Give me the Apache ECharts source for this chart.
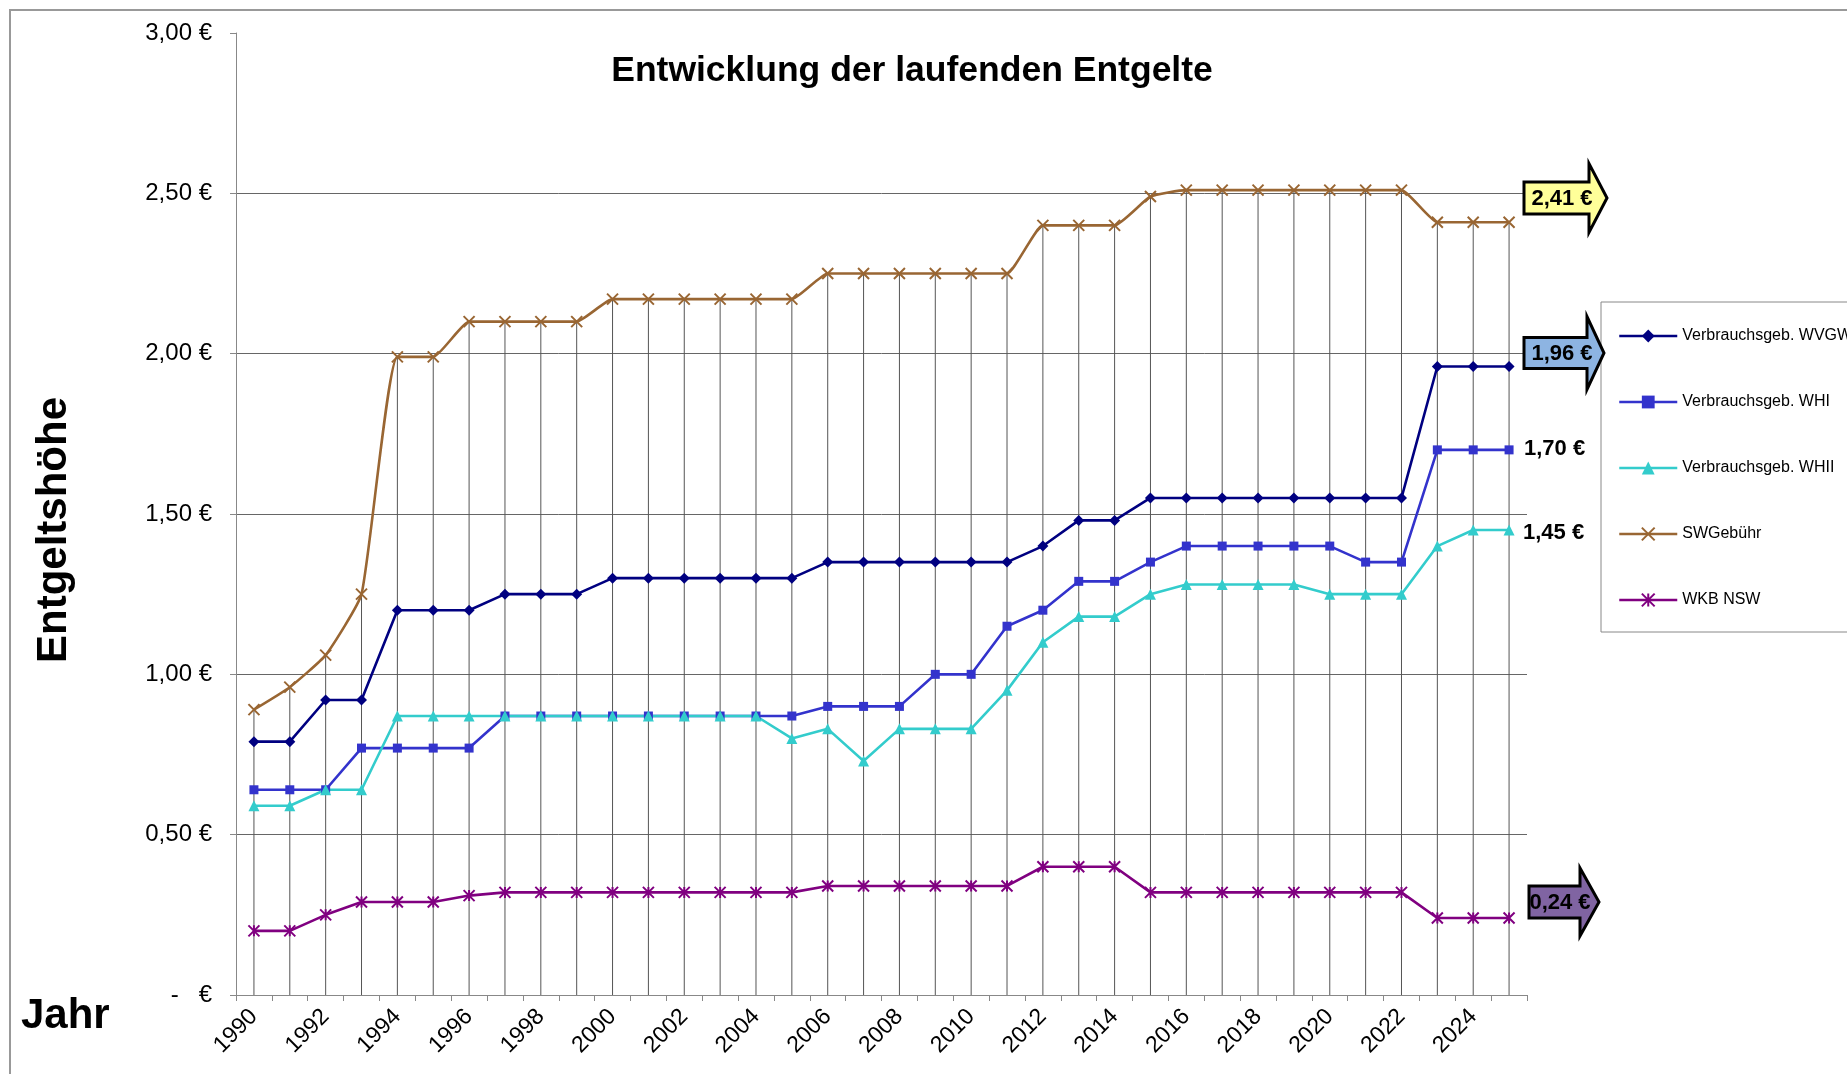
<!DOCTYPE html>
<html>
<head>
<meta charset="utf-8">
<title>Entwicklung der laufenden Entgelte</title>
<script src="https://cdn.jsdelivr.net/npm/echarts@6/dist/echarts.min.js"></script>
<style>
  html, body { margin: 0; padding: 0; background: #fff; }
  #chart { width: 1847px; height: 1074px; }
</style>
</head>
<body>
<div id="chart"></div>
<script>
  // Jahre 1990 - 2025
  const years = ['1990','1991','1992','1993','1994','1995','1996','1997','1998','1999',
    '2000','2001','2002','2003','2004','2005','2006','2007','2008','2009',
    '2010','2011','2012','2013','2014','2015','2016','2017','2018','2019',
    '2020','2021','2022','2023','2024','2025']

  const names = ['Verbrauchsgeb. WVGW', 'Verbrauchsgeb. WHI', 'Verbrauchsgeb. WHII', 'SWGebühr', 'WKB NSW']

  const wvgw = [0.79,0.79,0.92,0.92,1.20,1.20,1.20,1.25,1.25,1.25,
    1.30,1.30,1.30,1.30,1.30,1.30,1.35,1.35,1.35,1.35,
    1.35,1.35,1.40,1.48,1.48,1.55,1.55,1.55,1.55,1.55,
    1.55,1.55,1.55,1.96,1.96,1.96]
  const whi = [0.64,0.64,0.64,0.77,0.77,0.77,0.77,0.87,0.87,0.87,
    0.87,0.87,0.87,0.87,0.87,0.87,0.90,0.90,0.90,1.00,
    1.00,1.15,1.20,1.29,1.29,1.35,1.40,1.40,1.40,1.40,
    1.40,1.35,1.35,1.70,1.70,1.70]
  const whii = [0.59,0.59,0.64,0.64,0.87,0.87,0.87,0.87,0.87,0.87,
    0.87,0.87,0.87,0.87,0.87,0.80,0.83,0.73,0.83,0.83,
    0.83,0.95,1.10,1.18,1.18,1.25,1.28,1.28,1.28,1.28,
    1.25,1.25,1.25,1.40,1.45,1.45]
  const sw = [0.89,0.96,1.06,1.25,1.99,1.99,2.10,2.10,2.10,2.10,
    2.17,2.17,2.17,2.17,2.17,2.17,2.25,2.25,2.25,2.25,
    2.25,2.25,2.40,2.40,2.40,2.49,2.51,2.51,2.51,2.51,
    2.51,2.51,2.51,2.41,2.41,2.41]
  const wkb = [0.20,0.20,0.25,0.29,0.29,0.29,0.31,0.32,0.32,0.32,
    0.32,0.32,0.32,0.32,0.32,0.32,0.34,0.34,0.34,0.34,
    0.34,0.34,0.40,0.40,0.40,0.32,0.32,0.32,0.32,0.32,
    0.32,0.32,0.32,0.24,0.24,0.24]

  const yTicks = [0, 0.5, 1, 1.5, 2, 2.5, 3]

  const colors = ['#000080', '#3333cc', '#33cccc', '#996633', '#800080']
  const xMark = 'path://M0,0L10,10M10,0L0,10'
  const starMark = 'path://M0,0L10,10M10,0L0,10M5,0L5,10'

  // Excel-Lotlinien: vom höchsten Wert je Jahr bis zur Achse
  const dropLines = years.map((y, i) => Math.max(wvgw[i], whi[i], whii[i], sw[i], wkb[i]))

  const fmt = v => v.toFixed(2).replace('.', ',') + ' €'
  const last = arr => arr[arr.length - 1]

  function arrow (x0, x1, tip, yc, bh, hh, fill, label, tx) {
    return [
      {
        type: 'polygon',
        z: 10,
        shape: {
          points: [[x0, yc - bh / 2], [x1, yc - bh / 2], [x1, yc - hh / 2], [tip, yc],
            [x1, yc + hh / 2], [x1, yc + bh / 2], [x0, yc + bh / 2]]
        },
        style: { fill: fill, stroke: '#000', lineWidth: 3, lineJoin: 'miter' }
      },
      {
        type: 'text',
        z: 11,
        x: tx,
        y: yc + 1,
        style: {
          text: label,
          align: 'center',
          verticalAlign: 'middle',
          font: 'bold 22px "Liberation Sans", Arial, sans-serif',
          fill: '#000'
        }
      }
    ]
  }

  let chart = echarts.init(document.getElementById('chart'))
  let option = {
    animation: false,
    backgroundColor: '#fff',
    textStyle: { fontFamily: '"Liberation Sans", Arial, sans-serif' },
    title: {
      text: 'Entwicklung der laufenden Entgelte',
      left: 907,
      top: 48,
      textAlign: 'center',
      textStyle: { fontSize: 35.5, fontWeight: 'bold', color: '#000' }
    },
    legend: {
      orient: 'vertical',
      left: 1601,
      top: 302,
      padding: [26, 40, 24, 17],
      itemWidth: 58,
      itemHeight: 16,
      itemGap: 50,
      borderColor: '#888',
      borderWidth: 1,
      lineStyle: { width: 2.5 },
      textStyle: { fontSize: 16, color: '#000', lineHeight: 16 },
      data: [
        { name: names[0] },
        { name: names[1] },
        { name: names[2] },
        { name: names[3], itemStyle: { borderColor: colors[3], borderWidth: 2 } },
        { name: names[4], itemStyle: { borderColor: colors[4], borderWidth: 2 } }
      ]
    },
    grid: {
      left: 236,
      right: 320,
      top: 33,
      bottom: 79,
      containLabel: false,
      outerBoundsMode: 'none'
    },
    xAxis: {
      type: 'category',
      data: years,
      boundaryGap: true,
      axisLine: { lineStyle: { color: '#888', width: 1 } },
      axisTick: { show: true, interval: 0, length: 6, lineStyle: { color: '#888' } },
      axisLabel: { interval: 1, rotate: 45, fontSize: 23, color: '#000', margin: 18 },
      splitLine: { show: false }
    },
    yAxis: {
      type: 'value',
      min: yTicks[0],
      max: yTicks[yTicks.length - 1],
      interval: 0.5,
      axisLine: { show: true, lineStyle: { color: '#888', width: 1 } },
      axisTick: { show: true, length: 6, lineStyle: { color: '#888' } },
      axisLabel: {
        fontSize: 24,
        color: '#000',
        margin: 24,
        formatter: v => v === 0 ? '-   €' : fmt(v)
      },
      splitLine: {
        show: true,
        lineStyle: { color: ['#666', '#666', '#666', '#666', '#666', '#666', 'rgba(0,0,0,0)'], width: 1 }
      }
    },
    series: [
      {
        name: 'Lotlinien',
        type: 'bar',
        data: dropLines,
        barWidth: 1,
        silent: true,
        legendHoverLink: false,
        itemStyle: { color: '#555' }
      },
      {
        name: names[0],
        type: 'line',
        data: wvgw,
        symbol: 'diamond',
        symbolSize: 11,
        showAllSymbol: true,
        lineStyle: { width: 2.6, color: colors[0] },
        itemStyle: { color: colors[0] }
      },
      {
        name: names[1],
        type: 'line',
        data: whi,
        symbol: 'rect',
        symbolSize: 9,
        showAllSymbol: true,
        lineStyle: { width: 2.6, color: colors[1] },
        itemStyle: { color: colors[1] }
      },
      {
        name: names[2],
        type: 'line',
        data: whii,
        symbol: 'triangle',
        symbolSize: 11,
        showAllSymbol: true,
        lineStyle: { width: 2.6, color: colors[2] },
        itemStyle: { color: colors[2] }
      },
      {
        name: names[3],
        type: 'line',
        data: sw,
        smooth: 0.15,
        symbol: xMark,
        symbolSize: 11,
        showAllSymbol: true,
        lineStyle: { width: 2.6, color: colors[3] },
        itemStyle: { color: colors[3], borderColor: colors[3], borderWidth: 2 }
      },
      {
        name: names[4],
        type: 'line',
        data: wkb,
        symbol: starMark,
        symbolSize: 11,
        showAllSymbol: true,
        lineStyle: { width: 2.6, color: colors[4] },
        itemStyle: { color: colors[4], borderColor: colors[4], borderWidth: 2 }
      }
    ],
    graphic: [
      {
        type: 'rect',
        silent: true,
        shape: { x: 10, y: 10, width: 2000, height: 2000 },
        style: { fill: 'none', stroke: '#999', lineWidth: 2 }
      },
      {
        type: 'text',
        x: 54,
        y: 530,
        rotation: Math.PI / 2,
        style: {
          text: 'Entgeltshöhe',
          align: 'center',
          verticalAlign: 'middle',
          font: 'bold 42px "Liberation Sans", Arial, sans-serif',
          fill: '#000'
        }
      },
      {
        type: 'text',
        x: 21,
        y: 1016,
        style: {
          text: 'Jahr',
          align: 'left',
          verticalAlign: 'middle',
          font: 'bold 42px "Liberation Sans", Arial, sans-serif',
          fill: '#000'
        }
      },
      ...arrow(1524, 1589, 1607, 198, 32, 69, '#ffff99', fmt(last(sw)), 1562),
      ...arrow(1524, 1587, 1604, 353, 31, 73, '#8db4e2', fmt(last(wvgw)), 1562),
      ...arrow(1529, 1580, 1599, 902, 32, 68, '#8064a2', fmt(last(wkb)), 1560),
      {
        type: 'text',
        x: 1524,
        y: 449,
        style: {
          text: fmt(last(whi)),
          align: 'left',
          verticalAlign: 'middle',
          font: 'bold 22px "Liberation Sans", Arial, sans-serif',
          fill: '#000'
        }
      },
      {
        type: 'text',
        x: 1523,
        y: 533,
        style: {
          text: fmt(last(whii)),
          align: 'left',
          verticalAlign: 'middle',
          font: 'bold 22px "Liberation Sans", Arial, sans-serif',
          fill: '#000'
        }
      }
    ]
  }
  chart.setOption(option)
</script>
</body>
</html>
